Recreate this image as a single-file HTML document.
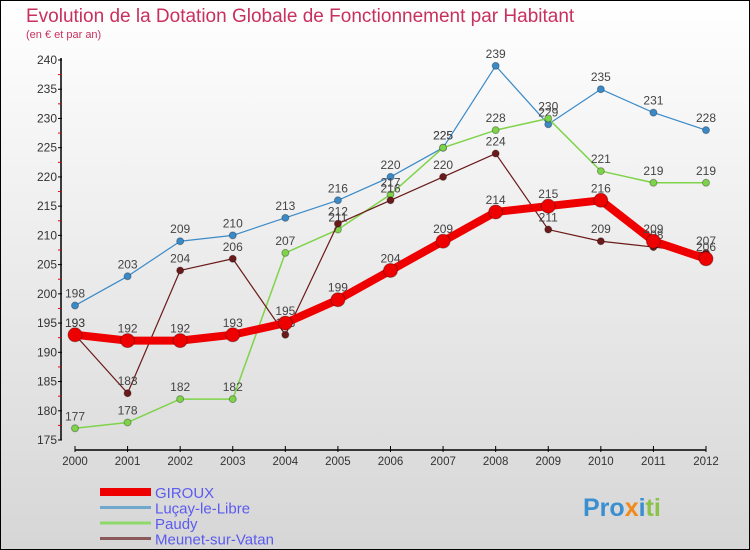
<!DOCTYPE html>
<html><head><meta charset="utf-8"><style>
body{margin:0;width:750px;height:550px;overflow:hidden}
svg{display:block;font-family:"Liberation Sans",sans-serif}
</style></head><body>
<svg id="c" width="750" height="550">
<defs><linearGradient id="bg" x1="0" y1="0" x2="0" y2="1"><stop offset="0" stop-color="#ffffff"/><stop offset="1" stop-color="#d6d6d6"/></linearGradient></defs>
<rect x="0.5" y="0.5" width="749" height="549" fill="url(#bg)" stroke="#000"/>
<text x="26" y="22" font-size="19" fill="#c8305e">Evolution de la Dotation Globale de Fonctionnement par Habitant</text>
<text x="26" y="38" font-size="11" fill="#c8305e">(en € et par an)</text>
<g id="axes"></g><g id="series"></g><g id="legend"></g>
<text x="583" y="516" font-size="25" font-weight="bold" fill="#3a8fd0">Pro<tspan fill="#f08a1c">x</tspan><tspan fill="#3a8fd0">i</tspan><tspan fill="#8bc34a">ti</tspan></text>
</svg>
<script>
const years=[2000,2001,2002,2003,2004,2005,2006,2007,2008,2009,2010,2011,2012];
const yTicks=[175,180,185,190,195,200,205,210,215,220,225,230,235,240];
const giroux=[193,192,192,193,195,199,204,209,214,215,216,209,206];
const lucay=[198,203,209,210,213,216,220,225,239,229,235,231,228];
const paudy=[177,178,182,182,207,211,217,225,228,230,221,219,219];
const meunet=[193,183,204,206,193,212,216,220,224,211,209,208,207];
const NS='http://www.w3.org/2000/svg';
const X=i=>75+i*(706-75)/12;
const Y=v=>440-(v-175)*(380/65);
function mk(t,a,p){const e=document.createElementNS(NS,t);for(const k in a)e.setAttribute(k,a[k]);p.appendChild(e);return e;}
const ax=document.getElementById('axes');
let l=mk('line',{x1:61,y1:58,x2:61,y2:440,stroke:'#000','stroke-width':1.5},ax);


l=mk('line',{x1:75,y1:450,x2:706,y2:450,stroke:'#000','stroke-width':1.5},ax);


yTicks.forEach((v,i)=>{
 mk('line',{x1:58,x2:62,y1:Y(v),y2:Y(v),stroke:'#000'},ax);
 if(i<yTicks.length-1) mk('line',{x1:58,x2:61,y1:Y(v+2.5),y2:Y(v+2.5),stroke:'#e00'},ax);
 const t=mk('text',{x:57,y:Y(v)+4,'font-size':12,fill:'#333','text-anchor':'end'},ax);t.textContent=v;
 
 
});
years.forEach((y,i)=>{
 mk('line',{x1:X(i),x2:X(i),y1:446,y2:452,stroke:'#000'},ax);
 const t=mk('text',{x:X(i),y:465,'font-size':11.5,fill:'#333','text-anchor':'middle'},ax);t.textContent=y;
 
 
});
const sg=document.getElementById('series');
function series(vals,color,w,r,name){
 const g=mk('g',{},sg);
 
 
 mk('polyline',{points:vals.map((v,i)=>X(i)+','+Y(v)).join(' '),fill:'none',stroke:color,'stroke-width':w,'stroke-linejoin':'round'},g);
 vals.forEach((v,i)=>{
  const c=mk('circle',{cx:X(i),cy:Y(v),r:r,fill:color,stroke:'rgba(0,0,0,0.3)'},g);
  
  
  const t=mk('text',{x:X(i),y:Y(v)-8,'font-size':12,fill:'#444','text-anchor':'middle'},g);t.textContent=v;
  
  
 });
}
series(lucay,'#3b8ac8',1.2,3.5,'lucay-series');
series(paudy,'#7fd34a',1.5,3.5,'paudy-series');
series(meunet,'#6b1a1a',1.2,3.5,'meunet-series');
series(giroux,'#ee0000',8,7,'giroux-series');
const lg=document.getElementById('legend');
const names=['GIROUX','Luçay-le-Libre','Paudy','Meunet-sur-Vatan'];
const cols=['#ee0000','#6fa8cc','#8fd86a','#8a5a5a'];
const ws=[8,3,3,3];
names.forEach((n,i)=>{
 const y=492+i*15.5;
 const ln=mk('line',{x1:100,x2:151,y1:y,y2:y,stroke:cols[i],'stroke-width':ws[i]},lg);
 
 
 const t=mk('text',{x:155,y:y+6,'font-size':15,fill:'#5b5bf0'},lg);t.textContent=n;
 
 
});
</script>
</body></html>
